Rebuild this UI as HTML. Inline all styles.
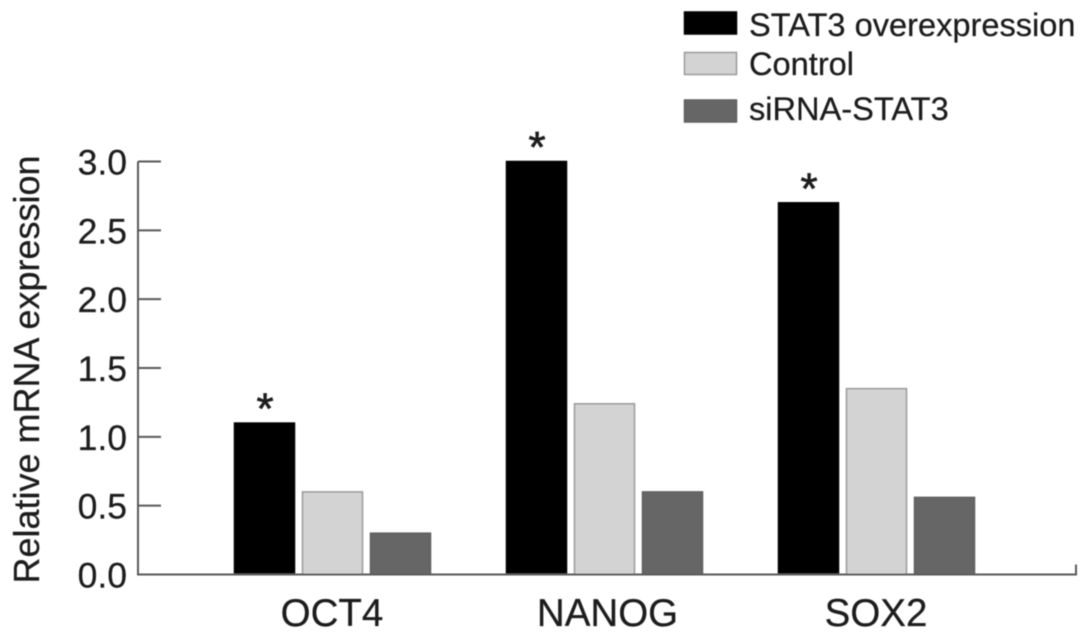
<!DOCTYPE html>
<html lang="en">
<head>
<meta charset="utf-8">
<title>Relative mRNA expression</title>
<style>
  html, body { margin: 0; padding: 0; background: #fff; }
  svg { display: block; }
  text { font-family: "Liberation Sans", Arial, sans-serif; fill: #1c1c1c; stroke: #1c1c1c; stroke-width: 0.25; }
</style>
</head>
<body>
<svg id="chart" xmlns="http://www.w3.org/2000/svg" width="1087" height="640" viewBox="0 0 1087 640">
  <defs>
    <filter id="soft" x="-5%" y="-5%" width="110%" height="110%"><feGaussianBlur stdDeviation="0.5"/></filter>
  </defs>
  <g id="plot" filter="url(#soft)">
    <text transform="translate(39 583.5) rotate(-90)" font-size="36" textLength="428" lengthAdjust="spacingAndGlyphs">Relative mRNA expression</text>
    <g id="legend"></g>
  </g>
</svg>
<script>
const categories = ['OCT4', 'NANOG', 'SOX2'];
const seriesNames = ['STAT3 overexpression', 'Control', 'siRNA-STAT3'];
const stat3Values = [1.10, 3.00, 2.70];
const controlValues = [0.60, 1.24, 1.35];
const sirnaValues = [0.30, 0.60, 0.56];
const significant = [true, true, true];
const tickValues = [0, 0.5, 1, 1.5, 2, 2.5, 3];
const tickLabels = ['0.0', '0.5', '1.0', '1.5', '2.0', '2.5', '3.0'];

const NS = 'http://www.w3.org/2000/svg';
const plot = document.getElementById('plot');
const legend = document.getElementById('legend');
const allSeries = [stat3Values, controlValues, sirnaValues];
const fills = ['#000000', '#d3d3d3', '#666666'];
const strokes = ['#000000', '#989898', '#5e5e5e'];

const AXIS_X = 138;
const AXIS_END = 1076;
const BASE_Y = 574.5;
const UNIT_H = 137.67;
const GROUP_START = 234;
const GROUP_STEP = 272;
const BAR_STEP = 68;
const BAR_W = 61;

function yScale(v) { return BASE_Y - v * UNIT_H; }
function xScale(cat, ser) { return GROUP_START + cat * GROUP_STEP + ser * BAR_STEP; }

function make(tag, attrs, text) {
  const el = document.createElementNS(NS, tag);
  Object.keys(attrs).forEach(function (k) { el.setAttribute(k, attrs[k]); });
  if (text !== undefined) el.textContent = text;
  return el;
}

// Bars and significance markers
categories.forEach(function (cat, c) {
  allSeries.forEach(function (values, s) {
    const top = yScale(values[c]);
    const bar = make('rect', {
      x: xScale(c, s) + 0.5, y: top, width: BAR_W - 1, height: BASE_Y - top,
      fill: fills[s], stroke: strokes[s], 'stroke-width': 1.5
    });
    
    
    plot.appendChild(bar);
  });
  if (significant[c]) {
    const star = make('text', {
      x: xScale(c, 0) + BAR_W / 2 + 0.5, y: yScale(stat3Values[c]) + 0.5,
      'font-size': 44, 'text-anchor': 'middle', style: 'stroke-width:0.7'
    }, '*');
    
    
    plot.appendChild(star);
  }
  const label = make('text', {
    x: xScale(c, 1) + BAR_W / 2 + (cat === 'NANOG' ? 3.5 : 0) - 0.5, y: 626,
    'font-size': 38.5, 'text-anchor': 'middle'
  }, cat);
  
  
  plot.appendChild(label);
});

// Axes
const axis = make('path', {
  d: 'M' + AXIS_X + ' ' + yScale(tickValues[tickValues.length - 1]) + 'V' + BASE_Y + 'H' + AXIS_END + 'V' + (BASE_Y - 10),
  fill: 'none', stroke: '#5a5a5a', 'stroke-width': 2
});


plot.appendChild(axis);

tickValues.forEach(function (v, i) {
  const y = yScale(v);
  const tick = make('line', { x1: AXIS_X, x2: 161, y1: y, y2: y, stroke: '#5a5a5a', 'stroke-width': 2 });
  
  
  plot.appendChild(tick);
  const label = make('text', { x: 127, y: y + 13, 'font-size': 35.5, 'text-anchor': 'end' }, tickLabels[i]);
  
  
  plot.appendChild(label);
});

// Legend
const legendSwatchTops = [12, 52.5, 100];
const legendBaselines = [36, 75, 120];
seriesNames.forEach(function (name, s) {
  const swatch = make('rect', {
    x: 684.5, y: legendSwatchTops[s], width: 52, height: 22,
    fill: fills[s], stroke: strokes[s], 'stroke-width': 1.5
  });
  
  
  legend.appendChild(swatch);
  const label = make('text', { x: 749, y: legendBaselines[s], 'font-size': 32.6 }, name);
  
  
  legend.appendChild(label);
});
</script>
</body>
</html>
